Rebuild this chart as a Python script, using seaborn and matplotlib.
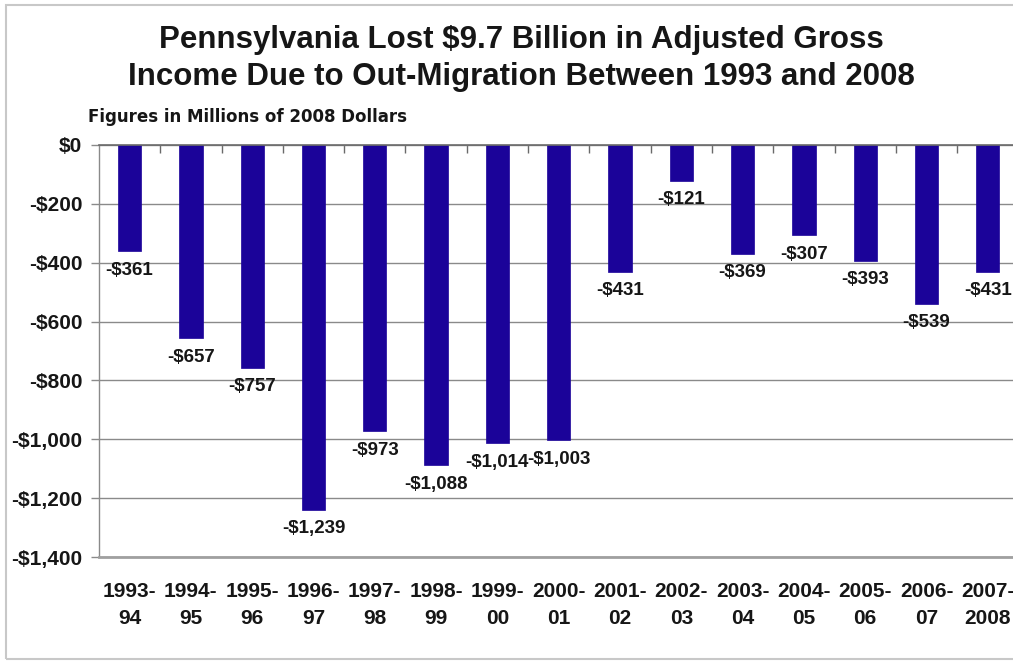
import matplotlib
matplotlib.use("Agg")
import matplotlib.pyplot as plt
from matplotlib.patches import Rectangle
import seaborn as sns
import pandas as pd

periods = ["1993-\n94", "1994-\n95", "1995-\n96", "1996-\n97", "1997-\n98",
           "1998-\n99", "1999-\n00", "2000-\n01", "2001-\n02", "2002-\n03",
           "2003-\n04", "2004-\n05", "2005-\n06", "2006-\n07", "2007-\n2008"]
agi_change = [-361, -657, -757, -1239, -973, -1088, -1014, -1003,
              -431, -121, -369, -307, -393, -539, -431]
value_labels = ["-$361", "-$657", "-$757", "-$1,239", "-$973", "-$1,088",
                "-$1,014", "-$1,003", "-$431", "-$121", "-$369", "-$307",
                "-$393", "-$539", "-$431"]
y_ticks = [0, -200, -400, -600, -800, -1000, -1200, -1400]
y_tick_labels = ["$0", "-$200", "-$400", "-$600", "-$800", "-$1,000",
                 "-$1,200", "-$1,400"]
title = "Pennsylvania Lost $9.7 Billion in Adjusted Gross\nIncome Due to Out-Migration Between 1993 and 2008"
subtitle = "Figures in Millions of 2008 Dollars"

df = pd.DataFrame({"period": periods, "value": agi_change})

sns.set_style("white")
plt.rcParams["font.family"] = ["Liberation Sans", "DejaVu Sans"]
plt.rcParams["font.weight"] = "bold"

TXT = "#161616"
BAR = "#1b0399"

fig = plt.figure(figsize=(10.13, 6.62), dpi=100)
ax = fig.add_axes([0.0977, 0.1586, 0.9077, 0.6224])

sns.barplot(data=df, x="period", y="value", color=BAR, width=0.38,
            saturation=1, ax=ax, edgecolor=BAR, linewidth=0.5)

ax.set_xlim(-0.5, len(periods) - 0.5)
ax.set_ylim(-1400, 0)
ax.set_yticks(y_ticks)
ax.set_yticklabels(y_tick_labels)
ax.set_xlabel("")
ax.set_ylabel("")

ax.grid(axis="y", color="#8a8a8a", linewidth=1.0)
ax.grid(axis="x", visible=False)
ax.set_axisbelow(True)

ax.spines["right"].set_visible(False)
ax.spines["left"].set_color("#8a8a8a")
ax.spines["left"].set_linewidth(1.0)
ax.spines["top"].set_color("#6a6a6a")
ax.spines["top"].set_linewidth(1.2)
ax.spines["bottom"].set_color("#a0a0a0")
ax.spines["bottom"].set_linewidth(2.0)

ax.tick_params(axis="y", which="major", length=6, width=1, color="#8a8a8a",
               direction="out", pad=6, labelsize=15, labelcolor=TXT, left=True)
ax.tick_params(axis="x", which="major", length=0, pad=18, labelsize=15,
               labelcolor=TXT)
for lbl in ax.get_xticklabels():
    lbl.set_linespacing(1.55)
    lbl.set_fontweight("bold")
for lbl in ax.get_yticklabels():
    lbl.set_fontweight("bold")

# category separator ticks hanging from the zero line
top = ax.secondary_xaxis("top")
top.set_xticks([i + 0.5 for i in range(len(periods) - 1)])
top.tick_params(direction="in", length=6, width=1, color="#6a6a6a",
                labeltop=False)
top.spines["top"].set_visible(False)

for i, (v, lab) in enumerate(zip(agi_change, value_labels)):
    ax.annotate(lab, xy=(i, v), xytext=(0, -7.5), textcoords="offset points",
                ha="center", va="top", fontsize=13.5, fontweight="bold",
                color=TXT)

fig.text(0.515, 0.962, title, ha="center", va="top", fontsize=22.5,
         fontweight="bold", color=TXT, linespacing=1.3)
fig.text(0.087, 0.824, subtitle, ha="left", va="center", fontsize=12,
         fontweight="bold", color=TXT, family=["DejaVu Sans"])

fig.add_artist(Rectangle((0.006, 0.004), 1.2, 0.988, transform=fig.transFigure,
                         fill=False, edgecolor="#c8c8c8", linewidth=1.5))

fig.savefig("out.png", dpi=100)
